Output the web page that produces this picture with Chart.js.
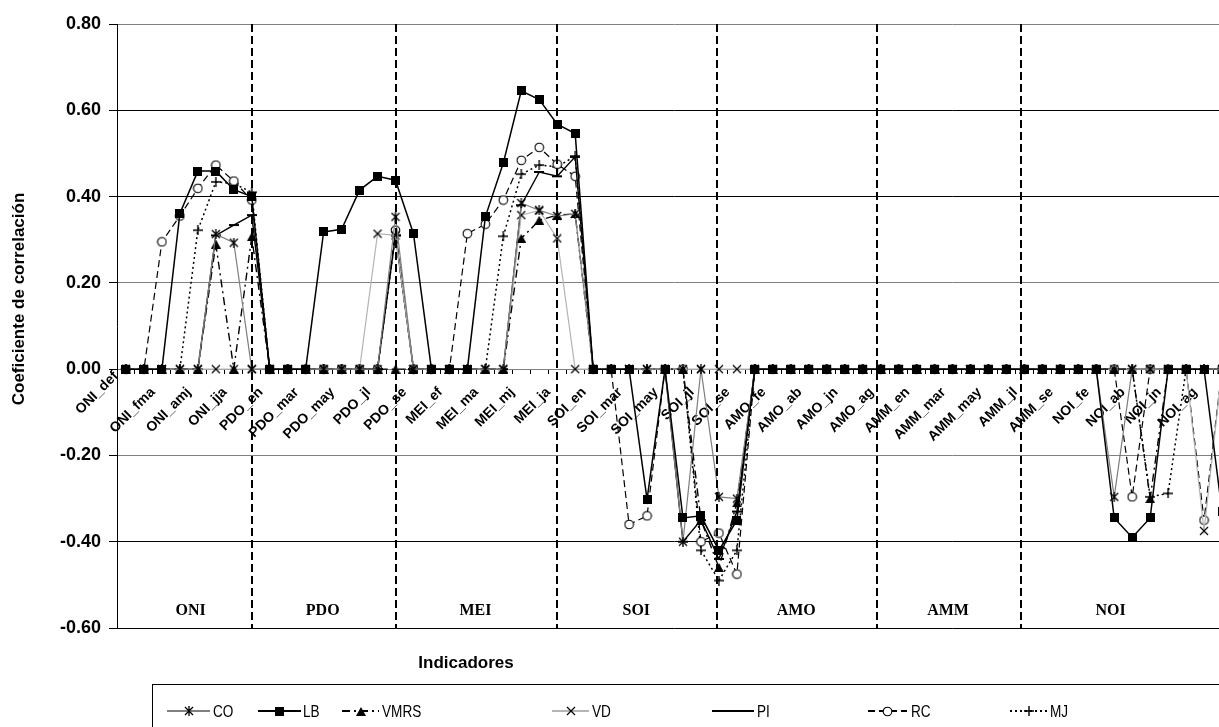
<!DOCTYPE html>
<html><head><meta charset="utf-8">
<script src="https://cdn.jsdelivr.net/npm/chart.js@4.4.0/dist/chart.umd.min.js"></script>
<style>
html,body{margin:0;padding:0;background:#fff;overflow:hidden;width:1219px;height:727px}
#wrap{position:relative;width:1250px;height:727px}
</style></head><body><div id="wrap"><canvas id="c" width="1250" height="727"></canvas></div>
<script>
const categories = [
 'ONI_def','ONI_jfm','ONI_fma','ONI_mam','ONI_amj','ONI_mjj','ONI_jja','ONI_jas',
 'PDO_en','PDO_fe','PDO_mar','PDO_ab','PDO_may','PDO_jn','PDO_jl','PDO_ag','PDO_se',
 'MEI_de','MEI_ef','MEI_fm','MEI_ma','MEI_am','MEI_mj','MEI_jj','MEI_ja','MEI_as',
 'SOI_en','SOI_fe','SOI_mar','SOI_ab','SOI_may','SOI_jn','SOI_jl','SOI_ag','SOI_se',
 'AMO_en','AMO_fe','AMO_mar','AMO_ab','AMO_may','AMO_jn','AMO_jl','AMO_ag','AMO_se',
 'AMM_en','AMM_fe','AMM_mar','AMM_ab','AMM_may','AMM_jn','AMM_jl','AMM_ag','AMM_se',
 'NOI_en','NOI_fe','NOI_mar','NOI_ab','NOI_may','NOI_jn','NOI_jl','NOI_ag','NOI_se'];
const groups = ['ONI','PDO','MEI','SOI','AMO','AMM','NOI'];
const yTicks = [-0.6,-0.4,-0.2,0,0.2,0.4,0.6,0.8];
//            ONI(0-7) | PDO(8-16) | MEI(17-25) | SOI(26-34) | AMO(35-43) | AMM(44-52) | NOI(53-61)
const CO   = [0,0,0,0,0,0.313,0.293,0,   0,0,0,0,0,0,0,0.353,0,   0,0,0,0,0,0.385,0.368,0.355,0.36,   0,0,0,0,0,-0.40,0,-0.296,-0.30,   0,0,0,0,0,0,0,0,0,  0,0,0,0,0,0,0,0,0,  0,0,-0.296,0,0,0,0,0,0];
const LB   = [0,0,0,0.361,0.459,0.459,0.416,0.40,   0,0,0,0.318,0.324,0.415,0.447,0.438,0.314,   0,0,0,0.353,0.478,0.645,0.625,0.568,0.546,   0,0,0,-0.302,0,-0.345,-0.34,-0.42,-0.35,   0,0,0,0,0,0,0,0,0,  0,0,0,0,0,0,0,0,0,  0,0,-0.345,-0.39,-0.345,0,0,0,-0.33];
const VMRS = [0,0,0,0,0,0.29,0,0.307,   0,0,0,0,0,0,0,0,0,   0,0,0,0,0,0.303,0.345,0.357,0.36,   0,0,0,0,0,0,-0.35,-0.46,-0.31,   0,0,0,0,0,0,0,0,0,  0,0,0,0,0,0,0,0,0,  0,0,0,0,-0.30,0,0,0,0];
const VD   = [0,0,0,0,0,0,0,0,   0,0,0,0,0,0,0.314,0.31,0,   0,0,0,0,0,0.357,0.368,0.303,0,   0,0,0,0,0,0,0,0,0,   0,0,0,0,0,0,0,0,0,  0,0,0,0,0,0,0,0,0,  0,0,0,0,0,0,0,-0.375,0];
const PI   = [0,0,0,0,0,0.31,0.334,0.357,   0,0,0,0,0,0,0,0.31,0,   0,0,0,0,0,0.38,0.457,0.447,0.492,   0,0,0,0,0,-0.40,-0.35,-0.44,-0.33,   0,0,0,0,0,0,0,0,0,  0,0,0,0,0,0,0,0,0,  0,0,0,0,0,0,0,0,0];
const RC   = [0,0,0.295,0.355,0.419,0.473,0.436,0.392,   0,0,0,0,0,0,0,0.322,0,   0,0,0.314,0.336,0.392,0.484,0.514,0.475,0.447,   0,0,-0.36,-0.34,0,0,-0.40,-0.38,-0.475,   0,0,0,0,0,0,0,0,0,  0,0,0,0,0,0,0,0,0,  0,0,0,-0.296,0,0,0,-0.35,0];
const MJ   = [0,0,0,0,0.322,0.434,0.43,0.41,   0,0,0,0,0,0,0,0.31,0,   0,0,0,0,0.308,0.452,0.473,0.469,0.494,   0,0,0,0,0,0,-0.42,-0.49,-0.42,   0,0,0,0,0,0,0,0,0,  0,0,0,0,0,0,0,0,0,  0,0,0,0,-0.296,-0.288,0,0,0];

const seriesNames = ['CO','LB','VMRS','VD','PI','RC','MJ'];
const seriesData = [CO,LB,VMRS,VD,PI,RC,MJ];

// ---- marker images ----
function mk(w,h,fn){const c=document.createElement('canvas');c.width=w;c.height=h;const g=c.getContext('2d');fn(g);return c;}
const markers = {
  CO: mk(10,10,g=>{g.strokeStyle='#000';g.lineWidth=1.3;g.beginPath();g.moveTo(1,1);g.lineTo(9,9);g.moveTo(9,1);g.lineTo(1,9);g.moveTo(5,0);g.lineTo(5,10);g.stroke();}),
  LB: mk(9,9,g=>{g.fillStyle='#000';g.fillRect(0,0,9,9);}),
  VMRS: mk(10,9,g=>{g.fillStyle='#000';g.beginPath();g.moveTo(5,0);g.lineTo(10,9);g.lineTo(0,9);g.closePath();g.fill();}),
  VD: mk(10,10,g=>{g.strokeStyle='#000';g.lineWidth=1.2;g.beginPath();g.moveTo(1,1);g.lineTo(9,9);g.moveTo(9,1);g.lineTo(1,9);g.stroke();}),
  PI: mk(10,4,g=>{g.fillStyle='#000';g.fillRect(0,1,10,2);}),
  RC: mk(11,11,g=>{g.fillStyle='#fff';g.strokeStyle='#000';g.lineWidth=1.1;g.beginPath();g.arc(5.5,5.5,4.3,0,Math.PI*2);g.fill();g.stroke();}),
  MJ: mk(10,10,g=>{g.strokeStyle='#000';g.lineWidth=1.4;g.beginPath();g.moveTo(0,5);g.lineTo(10,5);g.moveTo(5,0);g.lineTo(5,10);g.stroke();})
};
const lineStyles = {
  CO:{color:'#7f7f7f',width:1.2,dash:[]},
  LB:{color:'#000',width:1.5,dash:[]},
  VMRS:{color:'#000',width:1.4,dash:[8,4,2,4]},
  VD:{color:'#b4b4b4',width:1.2,dash:[]},
  PI:{color:'#000',width:1.4,dash:[]},
  RC:{color:'#000',width:1.2,dash:[7,4]},
  MJ:{color:'#000',width:1.5,dash:[2,3]}
};
const drawOrder = {LB:0,CO:1,VMRS:2,VD:3,PI:4,RC:5,MJ:6};

const datasets = seriesNames.map((n,i)=>({
  label:n, data:seriesData[i], borderColor:lineStyles[n].color, borderWidth:lineStyles[n].width,
  borderDash:lineStyles[n].dash, pointStyle:markers[n], pointRadius:5, pointHoverRadius:5,
  tension:0, fill:false, order:drawOrder[n], clip:false
}));

const FONT = "'Liberation Sans', Arial, sans-serif";
const dividers = [7, 15, 24, 32.9, 41.8, 49.8];
const groupCenters = [3.6, 10.95, 19.45, 28.4, 37.3, 45.75, 54.8];
const legendItems = [
  {n:'CO',x0:167,x1:210,tx:213},{n:'LB',x0:258,x1:301,tx:303},{n:'VMRS',x0:342,x1:379,tx:382},
  {n:'VD',x0:552,x1:589,tx:592},{n:'PI',x0:712,x1:754,tx:757},{n:'RC',x0:868,x1:907,tx:911},
  {n:'MJ',x0:1010,x1:1047,tx:1050}];

const decor = {
  id:'decor',
  beforeDraw(chart){
    // the first category label sits higher, as in the original
    const xs=chart.scales.x;
    const items=xs.getLabelItems(chart.chartArea);
    if(items && items[0] && !items._shifted){items[0].options.translation[1]-=16;items[0].options.translation[0]-=1;items._shifted=true;}
  },
  afterDraw(chart){
    const ctx=chart.ctx, xs=chart.scales.x, ca=chart.chartArea;
    ctx.save();
    // vertical dashed dividers
    ctx.strokeStyle='#000';ctx.lineWidth=2;ctx.setLineDash([8,4]);
    dividers.forEach(d=>{const x=Math.round(xs.getPixelForValue(d));ctx.beginPath();ctx.moveTo(x,ca.top);ctx.lineTo(x,ca.bottom);ctx.stroke();});
    ctx.setLineDash([]);
    // group labels
    ctx.fillStyle='#000';ctx.font="bold 16px 'Liberation Serif','Times New Roman',serif";ctx.textAlign='center';ctx.textBaseline='middle';
    groups.forEach((g,i)=>ctx.fillText(g,xs.getPixelForValue(groupCenters[i]),611));
    // axis titles
    ctx.font='bold 17px '+FONT;
    ctx.fillText('Indicadores',466,663);
    ctx.save();ctx.translate(19,299);ctx.rotate(-Math.PI/2);ctx.fillText('Coeficiente de correlación',0,0);ctx.restore();
    // legend box
    ctx.strokeStyle='#000';ctx.lineWidth=1;ctx.strokeRect(152.5,684.5,1200,100);
    ctx.font="17px "+FONT;ctx.textAlign='left';
    const ly=711;
    legendItems.forEach(it=>{
      const s=lineStyles[it.n];
      ctx.strokeStyle=s.color;ctx.lineWidth=2;ctx.setLineDash(s.dash);
      ctx.beginPath();ctx.moveTo(it.x0,ly);ctx.lineTo(it.x1,ly);ctx.stroke();ctx.setLineDash([]);
      const m=markers[it.n];ctx.drawImage(m,Math.round((it.x0+it.x1)/2-m.width/2),Math.round(ly-m.height/2));
      ctx.fillStyle='#000';
      ctx.save();ctx.translate(it.tx,ly+1);ctx.scale(0.8,1);ctx.fillText(it.n,0,0);ctx.restore();
    });
    ctx.restore();
  }
};

new Chart(document.getElementById('c'),{
  type:'line',
  data:{labels:categories,datasets},
  options:{
    responsive:false,animation:false,devicePixelRatio:1,
    layout:{padding:{left:0,top:24,right:19,bottom:99}},
    plugins:{legend:{display:false},tooltip:{enabled:false}},
    scales:{
      x:{type:'category',offset:true,position:{y:0},
        grid:{display:true,drawOnChartArea:false,drawTicks:true,tickLength:4,color:'#000',offset:true},
        border:{display:true,color:'#808080',width:1},
        ticks:{autoSkip:false,maxRotation:45,minRotation:45,color:'#000',padding:11,labelOffset:-9,
          font:{family:FONT,size:14,weight:'bold'},
          callback:(v,i)=> i%2===0 ? categories[i] : ''}
      },
      y:{min:-0.6,max:0.8,afterFit:s=>{s.width=117;},
        afterBuildTicks:s=>{s.ticks=yTicks.map(v=>({value:v}));},
        grid:{color:c=>{const v=c.tick?Math.round(c.tick.value*100):0;return (v===20||v===-20||v===80||v===0)?'#808080':'#000';},
          lineWidth:1,drawTicks:true,tickLength:8,tickColor:'#000'},
        border:{display:true,color:'#000',width:1},
        ticks:{color:'#000',padding:8,font:{family:FONT,size:18,weight:'bold'},callback:v=>Number(v).toFixed(2)}
      }
    }
  },
  plugins:[decor]
});
</script></body></html>
